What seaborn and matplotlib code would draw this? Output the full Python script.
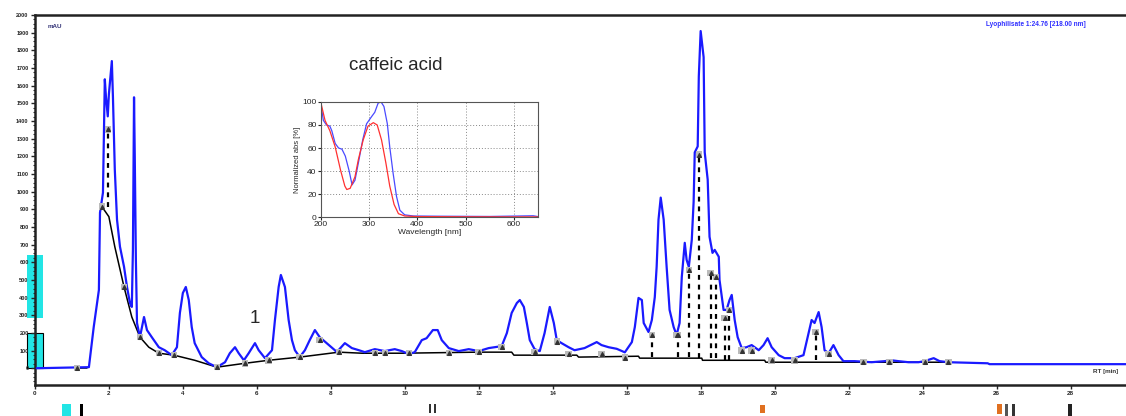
import numpy as np
import pandas as pd
import seaborn as sns
import matplotlib.pyplot as plt
from matplotlib.ticker import MultipleLocator
from matplotlib.patches import Rectangle

# chromatogram trace (RT in min, signal in mAU)
rt = [0.05, 1.46, 1.59, 1.73, 1.76, 1.84, 1.89, 1.92, 1.97, 2.00, 2.08, 2.11, 2.16, 2.22,
      2.30, 2.41, 2.49, 2.57, 2.62, 2.65, 2.68, 2.70, 2.73, 2.76, 2.84, 2.95, 3.03, 3.16,
      3.35, 3.51, 3.70, 3.84, 3.92, 4.00, 4.08, 4.16, 4.24, 4.32, 4.51, 4.70, 4.92, 5.14,
      5.27, 5.41, 5.51, 5.65, 5.78, 5.95, 6.05, 6.22, 6.41, 6.49, 6.59, 6.65, 6.76, 6.86,
      6.95, 7.03, 7.16, 7.30, 7.43, 7.57, 7.70, 7.95, 8.11, 8.16, 8.38, 8.57, 8.76, 8.92,
      9.19, 9.46, 9.73, 9.92, 10.11, 10.27, 10.46, 10.59, 10.76, 10.89, 11.00, 11.19,
      11.46, 11.73, 12.00, 12.27, 12.62, 12.76, 12.89, 13.03, 13.11, 13.22, 13.30, 13.38,
      13.51, 13.65, 13.78, 13.92, 14.03, 14.11, 14.24, 14.43, 14.59, 14.86, 15.19, 15.32,
      15.51, 15.73, 15.95, 16.14, 16.22, 16.32, 16.41, 16.46, 16.59, 16.68, 16.76, 16.81,
      16.86, 16.92, 17.00, 17.08, 17.16, 17.27, 17.35, 17.43, 17.49, 17.57, 17.62, 17.68,
      17.76, 17.81, 17.84, 17.92, 17.95, 18.00, 18.08, 18.11, 18.19, 18.24, 18.32, 18.38,
      18.49, 18.51, 18.62, 18.70, 18.78, 18.84, 18.92, 19.00, 19.11, 19.24, 19.38, 19.57,
      19.70, 19.81, 19.92, 20.11, 20.27, 20.54, 20.78, 20.92, 21.00, 21.08, 21.19, 21.27,
      21.35, 21.46, 21.59, 21.73, 21.86, 22.16, 22.62, 22.97, 23.16, 23.35, 23.62, 23.89,
      24.05, 24.30, 24.46, 24.70, 25.76, 25.81, 29.54]
mau = [0, 6, 233, 443, 881, 994, 1636, 1540, 1426, 1551, 1739, 1534, 1125, 841,
       688, 574, 460, 369, 347, 670, 1534, 1199, 614, 256, 176, 290, 216, 176,
       119, 102, 74, 119, 313, 426, 460, 386, 233, 142, 63, 28, 6, 34,
       85, 119, 85, 45, 85, 142, 102, 57, 102, 273, 460, 528, 460, 273,
       159, 102, 63, 102, 159, 216, 176, 131, 102, 91, 142, 114, 102, 91,
       108, 97, 108, 97, 80, 91, 159, 170, 216, 216, 159, 114,
       97, 108, 97, 114, 125, 199, 313, 369, 386, 347, 256, 159,
       108, 97, 199, 347, 256, 159, 142, 119, 102, 114, 148, 131,
       119, 110, 90, 148, 233, 398, 386, 256, 205, 273, 403, 574,
       841, 966, 841, 574, 330, 233, 188, 256, 517, 710, 614, 574,
       727, 943, 1222, 1256, 1653, 1909, 1761, 1222, 1068, 744, 653, 670,
       631, 500, 330, 330, 386, 415, 273, 176, 114, 119, 131, 102,
       131, 170, 119, 74, 57, 57, 74, 199, 273, 256, 318, 233,
       102, 85, 131, 74, 40, 40, 34, 40, 45, 40, 34, 34,
       40, 57, 40, 34, 28, 23, 23]

# integration baseline
base_rt = [1.81, 2.00, 2.16, 2.41, 2.62, 2.84, 3.08, 3.35, 3.76, 4.32, 4.92, 5.68, 6.32,
           7.16, 8.22, 8.84, 9.92, 11.97, 12.89, 12.95, 14.65, 14.70, 16.32, 16.35, 18.03,
           18.05, 19.73, 19.76, 24.78]
base_mau = [915, 858, 688, 460, 290, 176, 119, 85, 74, 45, 6, 28, 45,
            63, 91, 85, 85, 91, 91, 74, 74, 63, 68, 57, 57,
            45, 45, 34, 34]

# peak drop lines
drop_rt = [1.97, 16.68, 17.38, 17.68, 17.95, 18.27, 18.41, 18.65, 18.76, 21.11]
drop_top = [1352, 188, 188, 557, 1210, 540, 517, 284, 330, 205]
drop_bot = [915, 63, 63, 63, 57, 57, 57, 45, 45, 45]

# peak start / end markers
mark_rt = [1.14, 1.81, 2.41, 2.84, 3.35, 3.76, 4.92, 5.68, 6.32, 7.16, 7.70, 8.22, 9.20,
           9.46, 10.11, 11.19, 12.00, 12.62, 13.51, 14.11, 14.43, 15.32, 15.95, 17.35,
           19.11, 19.38, 19.92, 20.54, 21.46, 22.40, 23.10, 24.07, 24.70]
mark_mau = [0, 915, 460, 176, 85, 74, 6, 28, 45, 63, 160, 91, 85,
            85, 85, 85, 91, 120, 91, 150, 80, 80, 60, 188,
            100, 100, 45, 45, 80, 34, 34, 34, 34]

# inset UV spectra
wl_blue = [200, 205.5, 212, 219, 223, 230, 237, 244, 251, 259, 265, 271, 278, 287, 295,
           305, 312, 319, 325, 331, 338, 343, 350, 357, 364, 374, 392, 450, 550, 640, 650]
abs_blue = [99, 84, 80, 79, 75, 64, 60, 59, 53, 40, 28, 32, 47, 67, 81,
            87, 91, 99, 100, 96, 81, 61, 38, 18, 6, 2, 1, 0.8, 0.6, 1.2, 0.5]
wl_red = [200, 209, 219, 230, 241, 250, 254, 261, 271, 278, 288, 298, 309, 317, 326,
          335, 343, 352, 361, 374, 400, 500, 650]
abs_red = [100, 84, 75, 61, 41, 27, 24, 25, 35, 50, 67, 79, 82, 80, 67,
           47, 27, 11, 3, 1, 0.5, 0.3, 0.2]

trace = pd.DataFrame({"rt": rt, "mau": mau})
base = pd.DataFrame({"rt": base_rt, "mau": base_mau})

sns.set_style("white")
plt.rcParams["font.family"] = ["Liberation Sans", "DejaVu Sans"]

fig = plt.figure(figsize=(11.26, 4.16), dpi=100)
ax = fig.add_axes([0.031, 0.0745, 0.969, 0.8895])
ax.patch.set_alpha(0)

sns.lineplot(data=trace, x="rt", y="mau", ax=ax, color="#1a1aff", linewidth=1.6,
             estimator=None, sort=False, zorder=3)
sns.lineplot(data=base, x="rt", y="mau", ax=ax, color="black", linewidth=1.1,
             estimator=None, sort=False, zorder=2)
ax.plot([1.14, 1.41], [0, 0], color="black", linewidth=1.1, zorder=2)
ax.vlines(drop_rt, drop_bot, drop_top, colors="black", linestyles=(0, (2.2, 2.2)),
          linewidth=1.6, zorder=4)
ax.scatter(mark_rt, mark_mau, marker="s", s=22, facecolor="#bbbbbb", edgecolor="none", zorder=4)
ax.scatter(mark_rt, mark_mau, marker="^", s=7, color="#333333", zorder=5)
ax.scatter(drop_rt, drop_top, marker="s", s=22, facecolor="#bbbbbb", edgecolor="none", zorder=4)
ax.scatter(drop_rt, drop_top, marker="^", s=7, color="#333333", zorder=5)

ax.set_xlim(0, 29.5)
ax.set_ylim(-95, 2000)
ax.set_xticks(np.arange(0, 29, 2))
ax.set_yticks(np.arange(0, 2001, 100))
ax.yaxis.set_minor_locator(MultipleLocator(25))
ax.set_xticklabels([str(v) for v in range(0, 29, 2)], fontsize=4.5, fontweight="bold")
ax.set_yticklabels([str(v) for v in range(0, 2001, 100)], fontsize=4, fontweight="bold")
ax.tick_params(axis="both", which="major", direction="out", length=3, width=1, pad=1.5,
               left=True, bottom=True)
ax.tick_params(axis="y", which="minor", direction="out", length=1.5, width=0.8, left=True)
ax.set_xlabel("")
ax.set_ylabel("")
for side in ["top", "left", "bottom"]:
    ax.spines[side].set_color("#222222")
    ax.spines[side].set_linewidth(1.8)
ax.spines["right"].set_visible(False)

ax.text(0.012, 0.975, "mAU", transform=ax.transAxes, fontsize=4.5, fontweight="bold",
        color="#333377", va="top")
ax.text(0.872, 0.985, "Lyophilisate 1:24.76 [218.00 nm]", transform=ax.transAxes,
        fontsize=4.7, fontweight="bold", color="#3030ff", va="top")
ax.text(0.993, 0.03, "RT [min]", transform=ax.transAxes, fontsize=4.5, fontweight="bold",
        color="#333333", va="bottom", ha="right")
ax.text(9.75, 1716, "caffeic acid", fontsize=13.5, ha="center", va="center")
ax.text(5.95, 284, "1", fontsize=13.5, ha="center", va="center")

# cyan markers on the y axis and toolbar remnants under the x axis
def px_box(x, y, w, h, fc, ec="none", lw=0):
    fig.patches.append(Rectangle((x / 1126, (416 - y - h) / 416), w / 1126, h / 416,
                                 transform=fig.transFigure, facecolor=fc, edgecolor=ec,
                                 linewidth=lw, zorder=-1))

px_box(27, 255, 16, 63, "#22e5e5")
px_box(27, 333, 16, 35, "#22e5e5", "black", 0.8)
px_box(62, 404, 9, 12, "#22e5e5")
px_box(80, 404, 3, 12, "black")
px_box(429, 404, 2, 9, "#333333")
px_box(434, 404, 2, 9, "#333333")
px_box(760, 405, 5, 8, "#e07020")
px_box(997, 404, 5, 10, "#e07020")
px_box(1005, 404, 3, 12, "#555555")
px_box(1012, 404, 3, 12, "#333333")
px_box(1068, 404, 4, 12, "#222222")

# inset spectrum
ins = fig.add_axes([0.2848, 0.478, 0.193, 0.277])
sns.lineplot(x=wl_blue, y=abs_blue, ax=ins, color="#4a4aff", linewidth=0.9, sort=False)
sns.lineplot(x=wl_red, y=abs_red, ax=ins, color="#ff3030", linewidth=0.9, sort=False)
ins.set_xlim(200, 650)
ins.set_ylim(0, 100)
ins.set_xticks([200, 300, 400, 500, 600])
ins.set_yticks([0, 20, 40, 60, 80, 100])
ins.grid(True, color="#888888", linestyle=(0, (1, 2)), linewidth=0.7)
ins.tick_params(labelsize=6, length=2, pad=1, left=True, bottom=True)
ins.set_xlabel("Wavelength [nm]", fontsize=6, labelpad=0.5)
ins.set_ylabel("Normalized abs [%]", fontsize=5.5, labelpad=1)
for s in ins.spines.values():
    s.set_color("#555555")
    s.set_linewidth(0.8)

fig.savefig("out.png", dpi=100)
